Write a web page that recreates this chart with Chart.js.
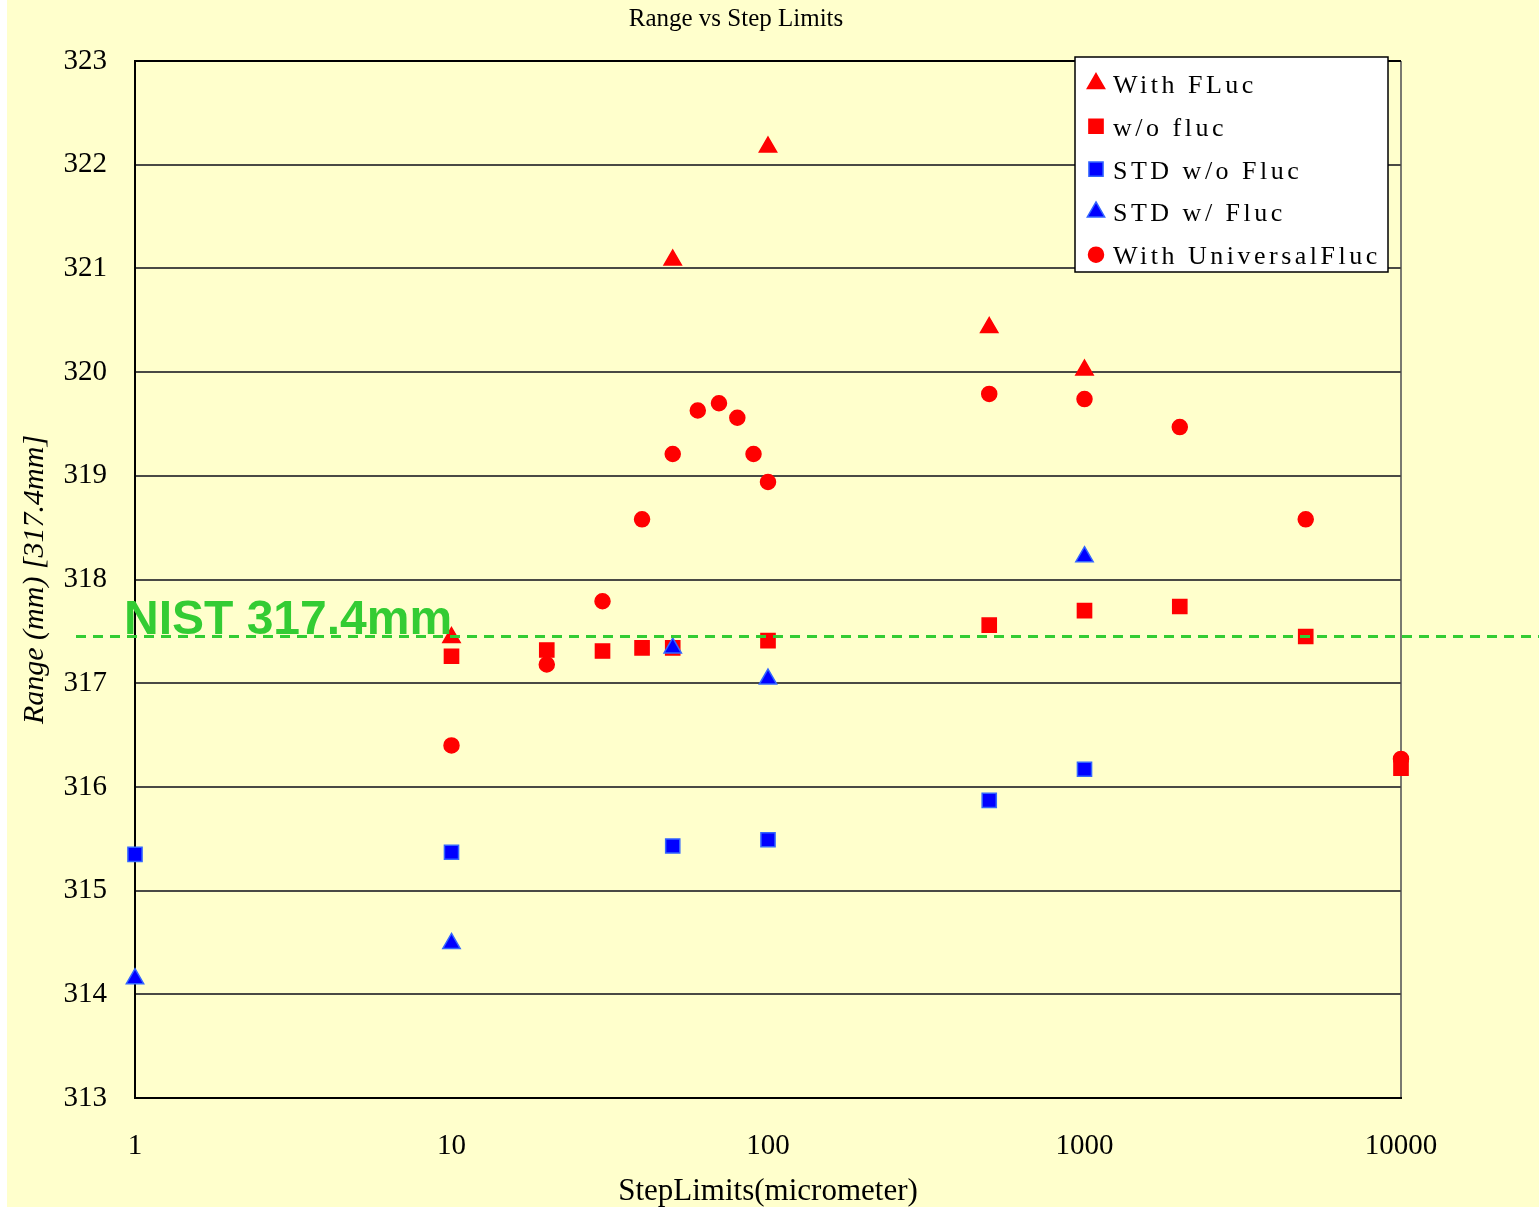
<!DOCTYPE html>
<html>
<head>
<meta charset="utf-8">
<title>Range vs Step Limits</title>
<script src="https://cdn.jsdelivr.net/npm/chart.js@4.4.1/dist/chart.umd.min.js"></script>
<style>
html, body { margin: 0; padding: 0; background: #fff; }
#wrap { width: 1539px; height: 1209px; }
</style>
</head>
<body>
<div id="wrap"><canvas id="chart" width="1539" height="1209"></canvas></div>
<script>
var chartTitle = 'Range vs Step Limits';
var xTitle = 'StepLimits(micrometer)';
var yTitle = 'Range (mm) [317.4mm]';
var seriesNames = ['With FLuc', 'w/o fluc', 'STD w/o Fluc', 'STD w/ Fluc', 'With UniversalFluc'];

// step limit (micrometer) / range (mm)
var withFlucX = [10, 50, 100, 500, 1000];
var withFlucY = [317.44, 321.08, 322.17, 320.43, 320.02];

var noFlucX = [10, 20, 30, 40, 50, 100, 500, 1000, 2000, 5000, 10000];
var noFlucY = [317.26, 317.32, 317.31, 317.34, 317.34, 317.41, 317.56, 317.70, 317.74, 317.45, 316.18];

var stdNoFlucX = [1, 10, 50, 100, 500, 1000];
var stdNoFlucY = [315.35, 315.37, 315.43, 315.49, 315.87, 316.17];

var stdFlucX = [1, 10, 50, 100, 1000];
var stdFlucY = [314.15, 314.49, 317.34, 317.04, 318.22];

var universalX = [10, 20, 30, 40, 50, 60, 70, 80, 90, 100, 500, 1000, 2000, 5000, 10000];
var universalY = [316.40, 317.18, 317.79, 318.58, 319.21, 319.63, 319.70, 319.56, 319.21, 318.94, 319.79, 319.74, 319.47, 318.58, 316.27];

var xTicks = [1, 10, 100, 1000, 10000];
var yMin = 313, yMax = 323;
var nistValue = 317.45;
var nistLabel = 'NIST 317.4mm';

var serif = '"Liberation Serif", "Times New Roman", serif';
var red = '#FF0000', blue = '#0000FF', blueEdge = '#3366FF';

function points(xs, ys) {
    return xs.map(function (x, i) { return { x: x, y: ys[i] }; });
}

function series(i, xs, ys, style, radius, fill, edge) {
    return {
        label: seriesNames[i],
        data: points(xs, ys),
        pointStyle: style,
        pointRadius: radius,
        pointHoverRadius: radius,
        backgroundColor: fill,
        borderColor: edge,
        borderWidth: 1.5,
        order: 5 - i,
        clip: false
    };
}

var datasets = [
    series(0, withFlucX, withFlucY, 'triangle', 10, red, red),
    series(1, noFlucX, noFlucY, 'rect', 10, red, red),
    series(2, stdNoFlucX, stdNoFlucY, 'rect', 10, blue, blueEdge),
    series(3, stdFlucX, stdFlucY, 'triangle', 10, blue, blueEdge),
    series(4, universalX, universalY, 'circle', 7.5, red, red)
];

var paper = {
    id: 'paper',
    beforeDraw: function (chart) {
        var ctx = chart.ctx;
        ctx.save();
        ctx.fillStyle = '#fff';
        ctx.fillRect(0, 0, chart.width, chart.height);
        ctx.fillStyle = '#FFFFCC';
        ctx.fillRect(7, 0, chart.width - 7, chart.height - 2);
        ctx.fillStyle = '#000';
        ctx.font = '25px ' + serif;
        ctx.textAlign = 'center';
        ctx.textBaseline = 'alphabetic';
        ctx.fillText(chartTitle, 736, 26);
        ctx.restore();
    }
};

var nist = {
    id: 'nist',
    afterDatasetsDraw: function (chart) {
        var ctx = chart.ctx;
        var y = chart.scales.y.getPixelForValue(nistValue);
        ctx.save();
        ctx.strokeStyle = '#33CC33';
        ctx.lineWidth = 3;
        ctx.setLineDash([10, 7]);
        ctx.beginPath();
        ctx.moveTo(76, y);
        ctx.lineTo(chart.width, y);
        ctx.stroke();
        ctx.setLineDash([]);
        ctx.fillStyle = '#33CC33';
        ctx.font = 'bold 48px "Liberation Sans", Arial, sans-serif';
        ctx.textAlign = 'left';
        ctx.textBaseline = 'alphabetic';
        ctx.fillText(nistLabel, 124, y - 3);
        ctx.restore();
    }
};

function marker(ctx, ds, x, y) {
    if (Chart.helpers && Chart.helpers.drawPoint) {
        Chart.helpers.drawPoint(ctx, { pointStyle: ds.pointStyle, radius: ds.pointRadius, rotation: 0, borderWidth: ds.borderWidth }, x, y);
        return;
    }
    var r = ds.pointRadius;
    ctx.beginPath();
    if (ds.pointStyle === 'circle') {
        ctx.arc(x, y, r, 0, Math.PI * 2);
    } else if (ds.pointStyle === 'rect') {
        var s = r * Math.SQRT1_2;
        ctx.rect(x - s, y - s, 2 * s, 2 * s);
    } else {
        ctx.moveTo(x, y - r);
        ctx.lineTo(x + r * 0.866, y + r / 2);
        ctx.lineTo(x - r * 0.866, y + r / 2);
        ctx.closePath();
    }
    ctx.fill();
    ctx.stroke();
}

var boxLegend = {
    id: 'boxLegend',
    afterDraw: function (chart) {
        var ctx = chart.ctx;
        var left = 1075, top = 57, w = 313, h = 215;
        ctx.save();
        ctx.fillStyle = '#fff';
        ctx.fillRect(left, top, w, h);
        ctx.strokeStyle = '#000';
        ctx.lineWidth = 1.5;
        ctx.strokeRect(left, top, w, h);
        chart.data.datasets.forEach(function (ds, i) {
            var cy = 83.5 + i * 42.8;
            ctx.fillStyle = ds.backgroundColor;
            ctx.strokeStyle = ds.borderColor;
            ctx.lineWidth = ds.borderWidth;
            marker(ctx, ds, 1096, cy);
            ctx.fillStyle = '#000';
            ctx.font = '26px ' + serif;
            ctx.letterSpacing = '3.5px';
            ctx.textAlign = 'left';
            ctx.textBaseline = 'alphabetic';
            ctx.fillText(ds.label, 1113, cy + 9.5);
        });
        ctx.restore();
    }
};

var chart = new Chart(document.getElementById('chart').getContext('2d'), {
    type: 'scatter',
    data: { datasets: datasets },
    options: {
        responsive: false,
        animation: false,
        events: [],
        layout: { padding: { left: 7, right: 138, top: 61, bottom: 2 } },
        plugins: {
            legend: { display: false },
            title: { display: false },
            tooltip: { enabled: false }
        },
        scales: {
            x: {
                type: 'logarithmic',
                position: 'bottom',
                min: 1,
                max: 10000,
                afterBuildTicks: function (scale) {
                    scale.ticks = xTicks.map(function (v) { return { value: v }; });
                },
                afterFit: function (scale) { scale.height = 109; },
                ticks: {
                    color: '#000',
                    font: { family: serif, size: 29 },
                    padding: 31,
                    maxRotation: 0,
                    autoSkip: false,
                    callback: function (v) { return String(v); }
                },
                grid: {
                    drawTicks: false,
                    lineWidth: 2,
                    color: function (c) {
                        return c.tick && c.tick.value === 10000 ? '#7a7a70' : 'rgba(0,0,0,0)';
                    }
                },
                border: { display: true, color: '#000', width: 2 },
                title: {
                    display: true,
                    text: xTitle,
                    color: '#000',
                    font: { family: serif, size: 31, lineHeight: 1 },
                    padding: 0
                }
            },
            y: {
                min: yMin,
                max: yMax,
                afterFit: function (scale) { scale.width = 128; },
                ticks: {
                    stepSize: 1,
                    color: '#000',
                    font: { family: serif, size: 29 },
                    padding: 28
                },
                grid: {
                    drawTicks: false,
                    lineWidth: 2,
                    color: function (c) {
                        var v = c.tick && c.tick.value;
                        return (v === yMin || v === yMax) ? '#000' : '#4a4a45';
                    }
                },
                border: { display: true, color: '#000', width: 2 },
                title: {
                    display: true,
                    text: yTitle,
                    color: '#000',
                    font: { family: serif, size: 30, style: 'italic' },
                    padding: { top: 10, bottom: 0 }
                }
            }
        }
    },
    plugins: [paper, nist, boxLegend]
});
</script>
</body>
</html>
